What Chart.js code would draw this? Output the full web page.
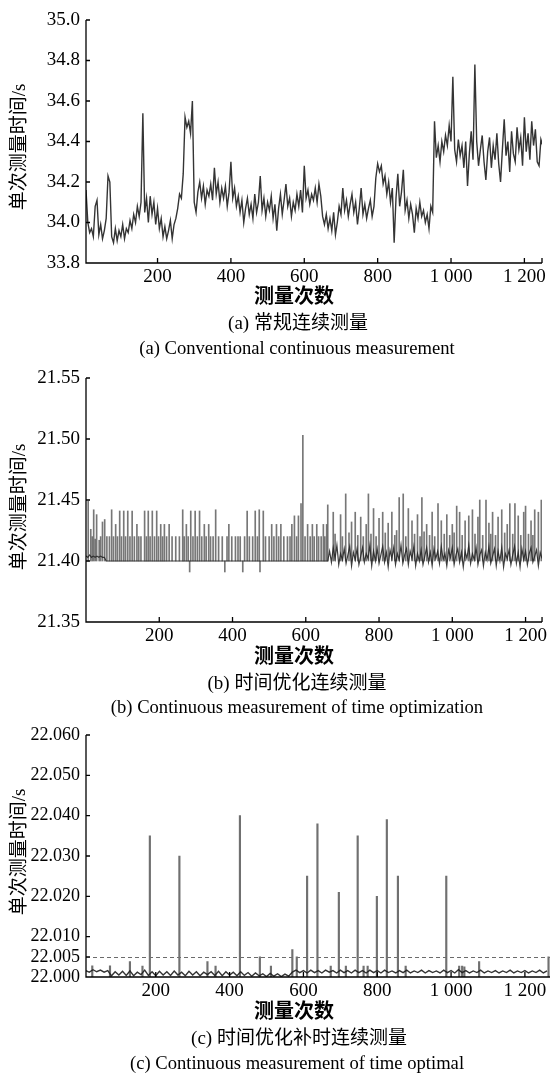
<!DOCTYPE html>
<html>
<head>
<meta charset="utf-8">
<script src="https://cdn.jsdelivr.net/npm/chart.js@4.4.1/dist/chart.umd.min.js"></script>
<style>
  body { margin: 0; background: #fff; width: 550px; height: 1073px; position: relative; overflow: hidden;
         font-family: "Liberation Serif", "Noto Sans CJK SC", serif; color: #000; }
  canvas { position: absolute; left: 0; }
  .t { position: absolute; white-space: nowrap; transform: translate(-50%, -50%); line-height: 1; }
  .xt { font-family: "Noto Sans CJK SC", sans-serif; font-weight: bold; font-size: 20px; }
  .cn { font-size: 19px; }
  .en { font-size: 18.6px; }
  .yt { font-size: 19px; transform: translate(-50%, -50%) rotate(-90deg); }
</style>
</head>
<body>
<canvas id="chartA" width="550" height="300" style="top:0px"></canvas>
<canvas id="chartB" width="550" height="320" style="top:340px"></canvas>
<canvas id="chartC" width="550" height="320" style="top:700px"></canvas>

<div class="t yt" style="left:18px;top:147px">单次测量时间/s</div>
<div class="t xt" style="left:294px;top:295px">测量次数</div>
<div class="t cn" style="left:298px;top:322px">(a) 常规连续测量</div>
<div class="t en" style="left:297px;top:348px">(a) Conventional continuous measurement</div>

<div class="t yt" style="left:18px;top:507px">单次测量时间/s</div>
<div class="t xt" style="left:294px;top:655px">测量次数</div>
<div class="t cn" style="left:297px;top:682px">(b) 时间优化连续测量</div>
<div class="t en" style="left:297px;top:707px">(b) Continuous measurement of time optimization</div>

<div class="t yt" style="left:18px;top:852px">单次测量时间/s</div>
<div class="t xt" style="left:294px;top:1010px">测量次数</div>
<div class="t cn" style="left:299px;top:1037px">(c) 时间优化补时连续测量</div>
<div class="t en" style="left:297px;top:1063px">(c) Continuous measurement of time optimal</div>

<script>
// x tick labels shared by the three panels
const xTicks = [200, 400, 600, 800, 1000, 1200];

// (a) conventional continuous measurement, one value every 5 measurements from #5
const aStart = 5, aStep = 5;
const aTicks = [33.8, 34.0, 34.2, 34.4, 34.6, 34.8, 35.0];
const aValues = [
  34.16, 34.00, 33.95, 33.97, 33.93, 34.08, 34.11, 33.94, 33.99, 33.92,
  33.96, 34.02, 34.23, 34.20, 33.93, 33.90, 33.97, 33.91, 33.96, 33.93,
  33.99, 33.92, 33.97, 33.95, 34.01, 33.97, 34.04, 34.00, 34.08, 34.03,
  34.10, 34.54, 34.05, 34.12, 34.00, 34.13, 34.04, 34.10, 33.99, 34.07,
  33.97, 34.02, 33.93, 33.98, 33.92, 33.96, 34.01, 33.92, 33.99, 34.02,
  34.07, 34.14, 34.12, 34.24, 34.52, 34.47, 34.50, 34.44, 34.60, 34.10,
  34.05, 34.15, 34.20, 34.12, 34.18, 34.09, 34.16, 34.13, 34.19, 34.11,
  34.27, 34.14, 34.20, 34.10, 34.17, 34.12, 34.18, 34.08, 34.15, 34.30,
  34.12, 34.17, 34.08, 34.13, 34.05, 34.11, 34.00, 34.07, 34.12, 34.04,
  34.09, 34.02, 34.14, 34.05, 34.10, 34.23, 34.06, 34.12, 34.03, 34.10,
  34.06, 34.13, 34.02, 34.09, 33.96, 34.07, 34.14, 34.04, 34.11, 34.19,
  34.08, 34.12, 34.03, 34.10, 34.06, 34.14, 34.08, 34.16, 34.05, 34.28,
  34.12, 34.16, 34.09, 34.14, 34.11, 34.17, 34.10, 34.19, 34.13, 34.03,
  33.99, 34.04, 33.97, 34.02, 33.96, 34.05, 33.94, 34.00, 34.08, 34.04,
  34.17, 34.06, 34.11, 34.03, 34.09, 34.14, 34.05, 34.10, 33.99, 34.07,
  34.17, 34.04, 34.09, 34.02, 34.07, 34.11, 34.03, 34.08, 34.22, 34.29,
  34.25, 34.28, 34.19, 34.23, 34.14, 34.20, 34.10, 34.17, 33.90, 34.12,
  34.24, 34.08, 34.15, 34.26, 34.06, 34.11, 34.02, 34.09, 34.04, 33.95,
  34.07, 34.02, 34.10, 34.03, 34.06, 34.00, 34.04, 33.97, 34.08, 34.05,
  34.50, 34.32, 34.38, 34.30, 34.40, 34.35, 34.43, 34.38, 34.48, 34.40,
  34.72, 34.36, 34.30, 34.41, 34.33, 34.38, 34.27, 34.40, 34.18, 34.34,
  34.45, 34.31, 34.78, 34.40, 34.28, 34.36, 34.43, 34.30, 34.21, 34.35,
  34.42, 34.27, 34.38, 34.31, 34.44, 34.29, 34.20, 34.36, 34.51, 34.33,
  34.40, 34.25, 34.45, 34.34, 34.30, 34.47, 34.36, 34.42, 34.28, 34.52,
  34.35, 34.44, 34.31, 34.50, 34.38, 34.46, 34.30, 34.28, 34.41, 34.38
];

// (b) time-optimised continuous measurement
const bTicks = [21.35, 21.40, 21.45, 21.50, 21.55];
// flat part of the trace (measurement #, value)
const bBaseX = [0, 5, 10, 15, 20, 25, 30, 35, 40, 45, 50, 55, 660];
const bBaseY = [21.404, 21.403, 21.405, 21.403, 21.404, 21.403, 21.404, 21.403, 21.404, 21.403, 21.403, 21.400, 21.400];
// noisy band after #660, one value every 5 measurements
const bTailStart = 665, bTailStep = 5;
const bTailValues = [
  21.408, 21.399, 21.411, 21.402, 21.413, 21.397, 21.406, 21.401, 21.410, 21.398,
  21.405, 21.412, 21.396, 21.407, 21.401, 21.410, 21.397, 21.404, 21.411, 21.399,
  21.406, 21.402, 21.413, 21.396, 21.408, 21.400, 21.410, 21.398, 21.405, 21.412,
  21.399, 21.407, 21.395, 21.409, 21.402, 21.411, 21.397, 21.406, 21.401, 21.413,
  21.398, 21.405, 21.410, 21.397, 21.408, 21.402, 21.412, 21.396, 21.406, 21.400,
  21.409, 21.397, 21.404, 21.411, 21.399, 21.407, 21.396, 21.410, 21.402, 21.408,
  21.398, 21.412, 21.401, 21.406, 21.396, 21.409, 21.403, 21.411, 21.397, 21.405,
  21.410, 21.399, 21.407, 21.395, 21.408, 21.402, 21.413, 21.398, 21.406, 21.401,
  21.411, 21.397, 21.405, 21.409, 21.396, 21.407, 21.401, 21.412, 21.398, 21.404,
  21.410, 21.396, 21.408, 21.400, 21.411, 21.395, 21.406, 21.402, 21.409, 21.397,
  21.405, 21.412, 21.398, 21.407, 21.395, 21.410, 21.401, 21.408, 21.397, 21.406,
  21.411, 21.399, 21.404, 21.409, 21.396, 21.407, 21.402
];
// single-measurement spikes (measurement #, value), drawn from 21.400
const bSpikeBase = 21.400;
const bSpikeX = [
  6, 13, 17, 21, 25, 29, 36, 40, 45, 51, 57, 64, 70, 75, 81, 86, 92, 97, 103, 108,
  114, 120, 126, 132, 139, 144, 150, 160, 165, 170, 175, 181, 187, 193, 198, 204, 209, 214, 220, 227,
  235, 245, 255, 264, 268, 274, 279, 283, 286, 292, 298, 304, 310, 316, 323, 328, 335, 340, 347, 354,
  362, 372, 379, 385, 390, 398, 408, 415, 421, 428, 433, 440, 446, 455, 462, 468, 473, 475, 484, 490,
  500, 507, 513, 520, 526, 532, 540, 550, 557, 562, 569, 575, 580, 587, 592, 598, 605, 612, 618, 623,
  630, 635, 642, 648, 652, 657, 660
];
const bSpikeY = [
  21.449, 21.426, 21.420, 21.442, 21.418, 21.438, 21.417, 21.420, 21.432, 21.434,
  21.420, 21.420, 21.442, 21.420, 21.430, 21.420, 21.441, 21.420, 21.441, 21.420,
  21.441, 21.420, 21.441, 21.420, 21.430, 21.420, 21.420, 21.441, 21.420, 21.441,
  21.420, 21.441, 21.420, 21.441, 21.420, 21.430, 21.420, 21.430, 21.420, 21.430,
  21.420, 21.420, 21.420, 21.442, 21.420, 21.430, 21.420, 21.391, 21.441, 21.420,
  21.441, 21.420, 21.441, 21.420, 21.430, 21.420, 21.430, 21.420, 21.420, 21.442,
  21.420, 21.420, 21.391, 21.420, 21.430, 21.420, 21.420, 21.420, 21.420, 21.391,
  21.420, 21.441, 21.420, 21.420, 21.441, 21.420, 21.442, 21.391, 21.441, 21.420,
  21.420, 21.430, 21.420, 21.430, 21.420, 21.430, 21.420, 21.420, 21.420, 21.430,
  21.437, 21.420, 21.437, 21.447, 21.503, 21.420, 21.430, 21.420, 21.430, 21.420,
  21.430, 21.420, 21.420, 21.430, 21.420, 21.430, 21.446
];
const bTailSpikeX = [
  675, 680, 695, 700, 709, 718, 725, 735, 742, 750, 757, 765, 771, 778, 785, 792, 800, 810, 817, 825,
  835, 843, 848, 855, 866, 873, 880, 890, 897, 905, 912, 917, 923, 930, 938, 945, 952, 961, 970, 978,
  985, 993, 1000, 1005, 1012, 1020, 1027, 1035, 1045, 1055, 1062, 1070, 1075, 1083, 1092, 1100, 1105, 1110, 1118, 1125,
  1135, 1143, 1150, 1157, 1165, 1171, 1180, 1187, 1195, 1200, 1208, 1215, 1220, 1225, 1235, 1243
];
const bTailSpikeY = [
  21.440, 21.422, 21.438, 21.420, 21.455, 21.423, 21.432, 21.440, 21.421, 21.436,
  21.420, 21.430, 21.455, 21.422, 21.443, 21.420, 21.435, 21.440, 21.423, 21.431,
  21.440, 21.421, 21.425, 21.452, 21.455, 21.420, 21.443, 21.433, 21.422, 21.438,
  21.420, 21.452, 21.424, 21.430, 21.421, 21.440, 21.420, 21.447, 21.433, 21.422,
  21.438, 21.421, 21.430, 21.423, 21.445, 21.440, 21.421, 21.433, 21.437, 21.442,
  21.422, 21.436, 21.450, 21.421, 21.450, 21.431, 21.422, 21.440, 21.421, 21.436,
  21.442, 21.423, 21.430, 21.447, 21.422, 21.447, 21.437, 21.421, 21.440, 21.445,
  21.422, 21.433, 21.421, 21.442, 21.440, 21.450
];

// (c) time-optimised with compensation: base band every 10 measurements, plus isolated spikes
const cStart = 10, cStep = 10;
const cTicks = [22.000, 22.005, 22.010, 22.020, 22.030, 22.040, 22.050, 22.060];
const cLimit = 22.005;
const cValues = [
  22.0016, 22.0012, 22.0018, 22.0013, 22.0017, 22.0012, 22.0016,
  22.0003, 22.0013, 22.0005, 22.0014, 22.0004, 22.0015, 22.0003, 22.0012, 22.0006, 22.0017,
  22.0004, 22.0013, 22.0003, 22.0014, 22.0005, 22.0013, 22.0004, 22.0015, 22.0005, 22.0012,
  22.0003, 22.0014, 22.0005, 22.0013, 22.0003, 22.0012, 22.0006, 22.0013, 22.0004, 22.0014,
  22.0003, 22.0013, 22.0005, 22.0012, 22.0003, 22.0013, 22.0004, 22.0011, 22.0002, 22.0010,
  22.0003, 22.0008, 22.0001, 22.0009, 22.0002, 22.0008, 22.0001, 22.0007, 22.0002,
  22.0012, 22.0017, 22.0011, 22.0016, 22.0010, 22.0017, 22.0011, 22.0016, 22.0010, 22.0017,
  22.0012, 22.0016, 22.0010, 22.0017, 22.0011, 22.0016, 22.0010, 22.0017, 22.0011, 22.0016,
  22.0010, 22.0017, 22.0011, 22.0016, 22.0010, 22.0017, 22.0011, 22.0015, 22.0010, 22.0016,
  22.0011, 22.0017, 22.0010, 22.0015, 22.0011, 22.0017, 22.0010, 22.0016, 22.0011, 22.0015,
  22.0010, 22.0017, 22.0011, 22.0016, 22.0010, 22.0018, 22.0011, 22.0016, 22.0010, 22.0015,
  22.0011, 22.0017, 22.0010, 22.0015, 22.0011, 22.0016, 22.0010, 22.0015, 22.0011, 22.0017,
  22.0010, 22.0015, 22.0011, 22.0016, 22.0010, 22.0015, 22.0011, 22.0017, 22.0010, 22.0015
];
const cSpikeX = [28, 76, 130, 164, 184, 264, 340, 362, 428, 482, 512, 570, 582, 610, 638,
                 674, 696, 715, 747, 763, 774, 799, 826, 856, 877, 987, 1022, 1030, 1036, 1076, 1264];
const cSpikeY = [22.0028, 22.0028, 22.0038, 22.0027, 22.035, 22.030, 22.0038, 22.0027, 22.040, 22.005,
                 22.0027, 22.0068, 22.005, 22.025, 22.038, 22.0027, 22.021, 22.0027, 22.035, 22.0027,
                 22.0027, 22.020, 22.039, 22.025, 22.0027, 22.025, 22.0027, 22.0027, 22.0025, 22.0038, 22.005];

function fmtX(v) {
  const s = String(v);
  return s.length > 3 ? s.slice(0, s.length - 3) + ' ' + s.slice(-3) : s;
}

function toPoints(start, step, values) {
  return values.map((v, i) => ({ x: start + i * step, y: v }));
}

function toBars(xs, ys, base) {
  return xs.map((x, i) => ({ x: x, y: base == null ? ys[i] : [base, ys[i]] }));
}

// axis lines, inward ticks and an optional dashed reference line
const axesPlugin = {
  id: 'axes',
  beforeDatasetsDraw(chart, args, opts) {
    if (opts.dashAt == null) return;
    const { ctx, chartArea: a, scales: { y } } = chart;
    const py = Math.round(y.getPixelForValue(opts.dashAt)) + 0.5;
    ctx.save();
    ctx.strokeStyle = '#6b6b6b';
    ctx.lineWidth = 1;
    ctx.setLineDash([4, 3]);
    ctx.beginPath();
    ctx.moveTo(a.left, py);
    ctx.lineTo(a.right, py);
    ctx.stroke();
    ctx.restore();
  },
  afterDraw(chart, args, opts) {
    const { ctx, chartArea: a, scales: { x, y } } = chart;
    ctx.save();
    ctx.strokeStyle = '#000';
    ctx.lineWidth = 1.3;
    ctx.beginPath();
    ctx.moveTo(a.left, a.top);
    ctx.lineTo(a.left, a.bottom);
    ctx.lineTo(a.right, a.bottom);
    y.ticks.forEach(t => {
      const py = y.getPixelForValue(t.value);
      ctx.moveTo(a.left, py);
      ctx.lineTo(a.left + 4, py);
    });
    x.ticks.forEach(t => {
      const px = x.getPixelForValue(t.value);
      ctx.moveTo(px, a.bottom);
      ctx.lineTo(px, a.bottom - 5);
    });
    if (opts.endTick) {
      ctx.moveTo(a.right, a.bottom);
      ctx.lineTo(a.right, a.bottom - 5);
    }
    ctx.stroke();
    ctx.restore();
  }
};

function makeChart(id, cfg) {
  const font = { family: 'Liberation Serif', size: cfg.fontSize || 19 };
  return new Chart(document.getElementById(id), {
    type: 'line',
    data: { datasets: cfg.datasets },
    options: {
      responsive: false,
      animation: false,
      events: [],
      layout: { padding: cfg.padding },
      plugins: {
        legend: { display: false },
        tooltip: { enabled: false },
        axes: { dashAt: cfg.dashAt, endTick: cfg.endTick }
      },
      scales: {
        x: {
          type: 'linear', min: cfg.xMin, max: cfg.xMax, offset: false,
          grid: { display: false, drawTicks: false }, border: { display: false },
          afterBuildTicks: s => { s.ticks = xTicks.map(v => ({ value: v })); },
          afterFit: s => { s.height = 30; },
          ticks: { font: { family: 'Liberation Serif', size: 19 }, color: '#000', padding: 3,
                   maxRotation: 0, autoSkip: false, callback: v => fmtX(v) }
        },
        y: {
          min: cfg.yTicks[0], max: cfg.yTicks[cfg.yTicks.length - 1],
          grid: { display: false, drawTicks: false }, border: { display: false },
          afterBuildTicks: s => { s.ticks = cfg.yTicks.map(v => ({ value: v })); },
          afterFit: s => { s.width = 86; },
          ticks: { font: font, color: '#000', padding: 6, autoSkip: false,
                   callback: v => v.toFixed(cfg.digits) }
        }
      }
    },
    plugins: [axesPlugin]
  });
}

makeChart('chartA', {
  xMin: 5, xMax: 1248, yTicks: aTicks, digits: 1, endTick: true,
  padding: { top: 20, right: 8, bottom: 7, left: 0 },
  datasets: [{
    data: toPoints(aStart, aStep, aValues),
    borderColor: 'rgba(30,30,30,0.9)', borderWidth: 1.4, pointRadius: 0, tension: 0
  }]
});

makeChart('chartB', {
  xMin: 0, xMax: 1245, yTicks: bTicks, digits: 2, endTick: true,
  padding: { top: 38, right: 2, bottom: 8, left: 0 },
  datasets: [{
    type: 'bar',
    data: toBars(bSpikeX, bSpikeY, bSpikeBase).concat(toBars(bTailSpikeX, bTailSpikeY, bSpikeBase)),
    backgroundColor: 'rgba(95,95,95,0.85)', barThickness: 1, order: 2
  }, {
    data: bBaseX.map((x, i) => ({ x: x, y: bBaseY[i] }))
      .concat(toPoints(bTailStart, bTailStep, bTailValues)),
    borderColor: 'rgba(40,40,40,0.9)', borderWidth: 1.2, pointRadius: 0, tension: 0, order: 1
  }]
});

makeChart('chartC', {
  xMin: 11, xMax: 1268, yTicks: cTicks, digits: 3, endTick: false, dashAt: cLimit, fontSize: 18,
  padding: { top: 35, right: 0, bottom: 13, left: 0 },
  datasets: [{
    type: 'bar',
    data: toBars(cSpikeX, cSpikeY),
    backgroundColor: '#707070', barThickness: 1.5, order: 2
  }, {
    data: toPoints(cStart, cStep, cValues),
    borderColor: 'rgba(30,30,30,0.9)', borderWidth: 1.4, pointRadius: 0, tension: 0, order: 1
  }]
});
</script>
</body>
</html>
